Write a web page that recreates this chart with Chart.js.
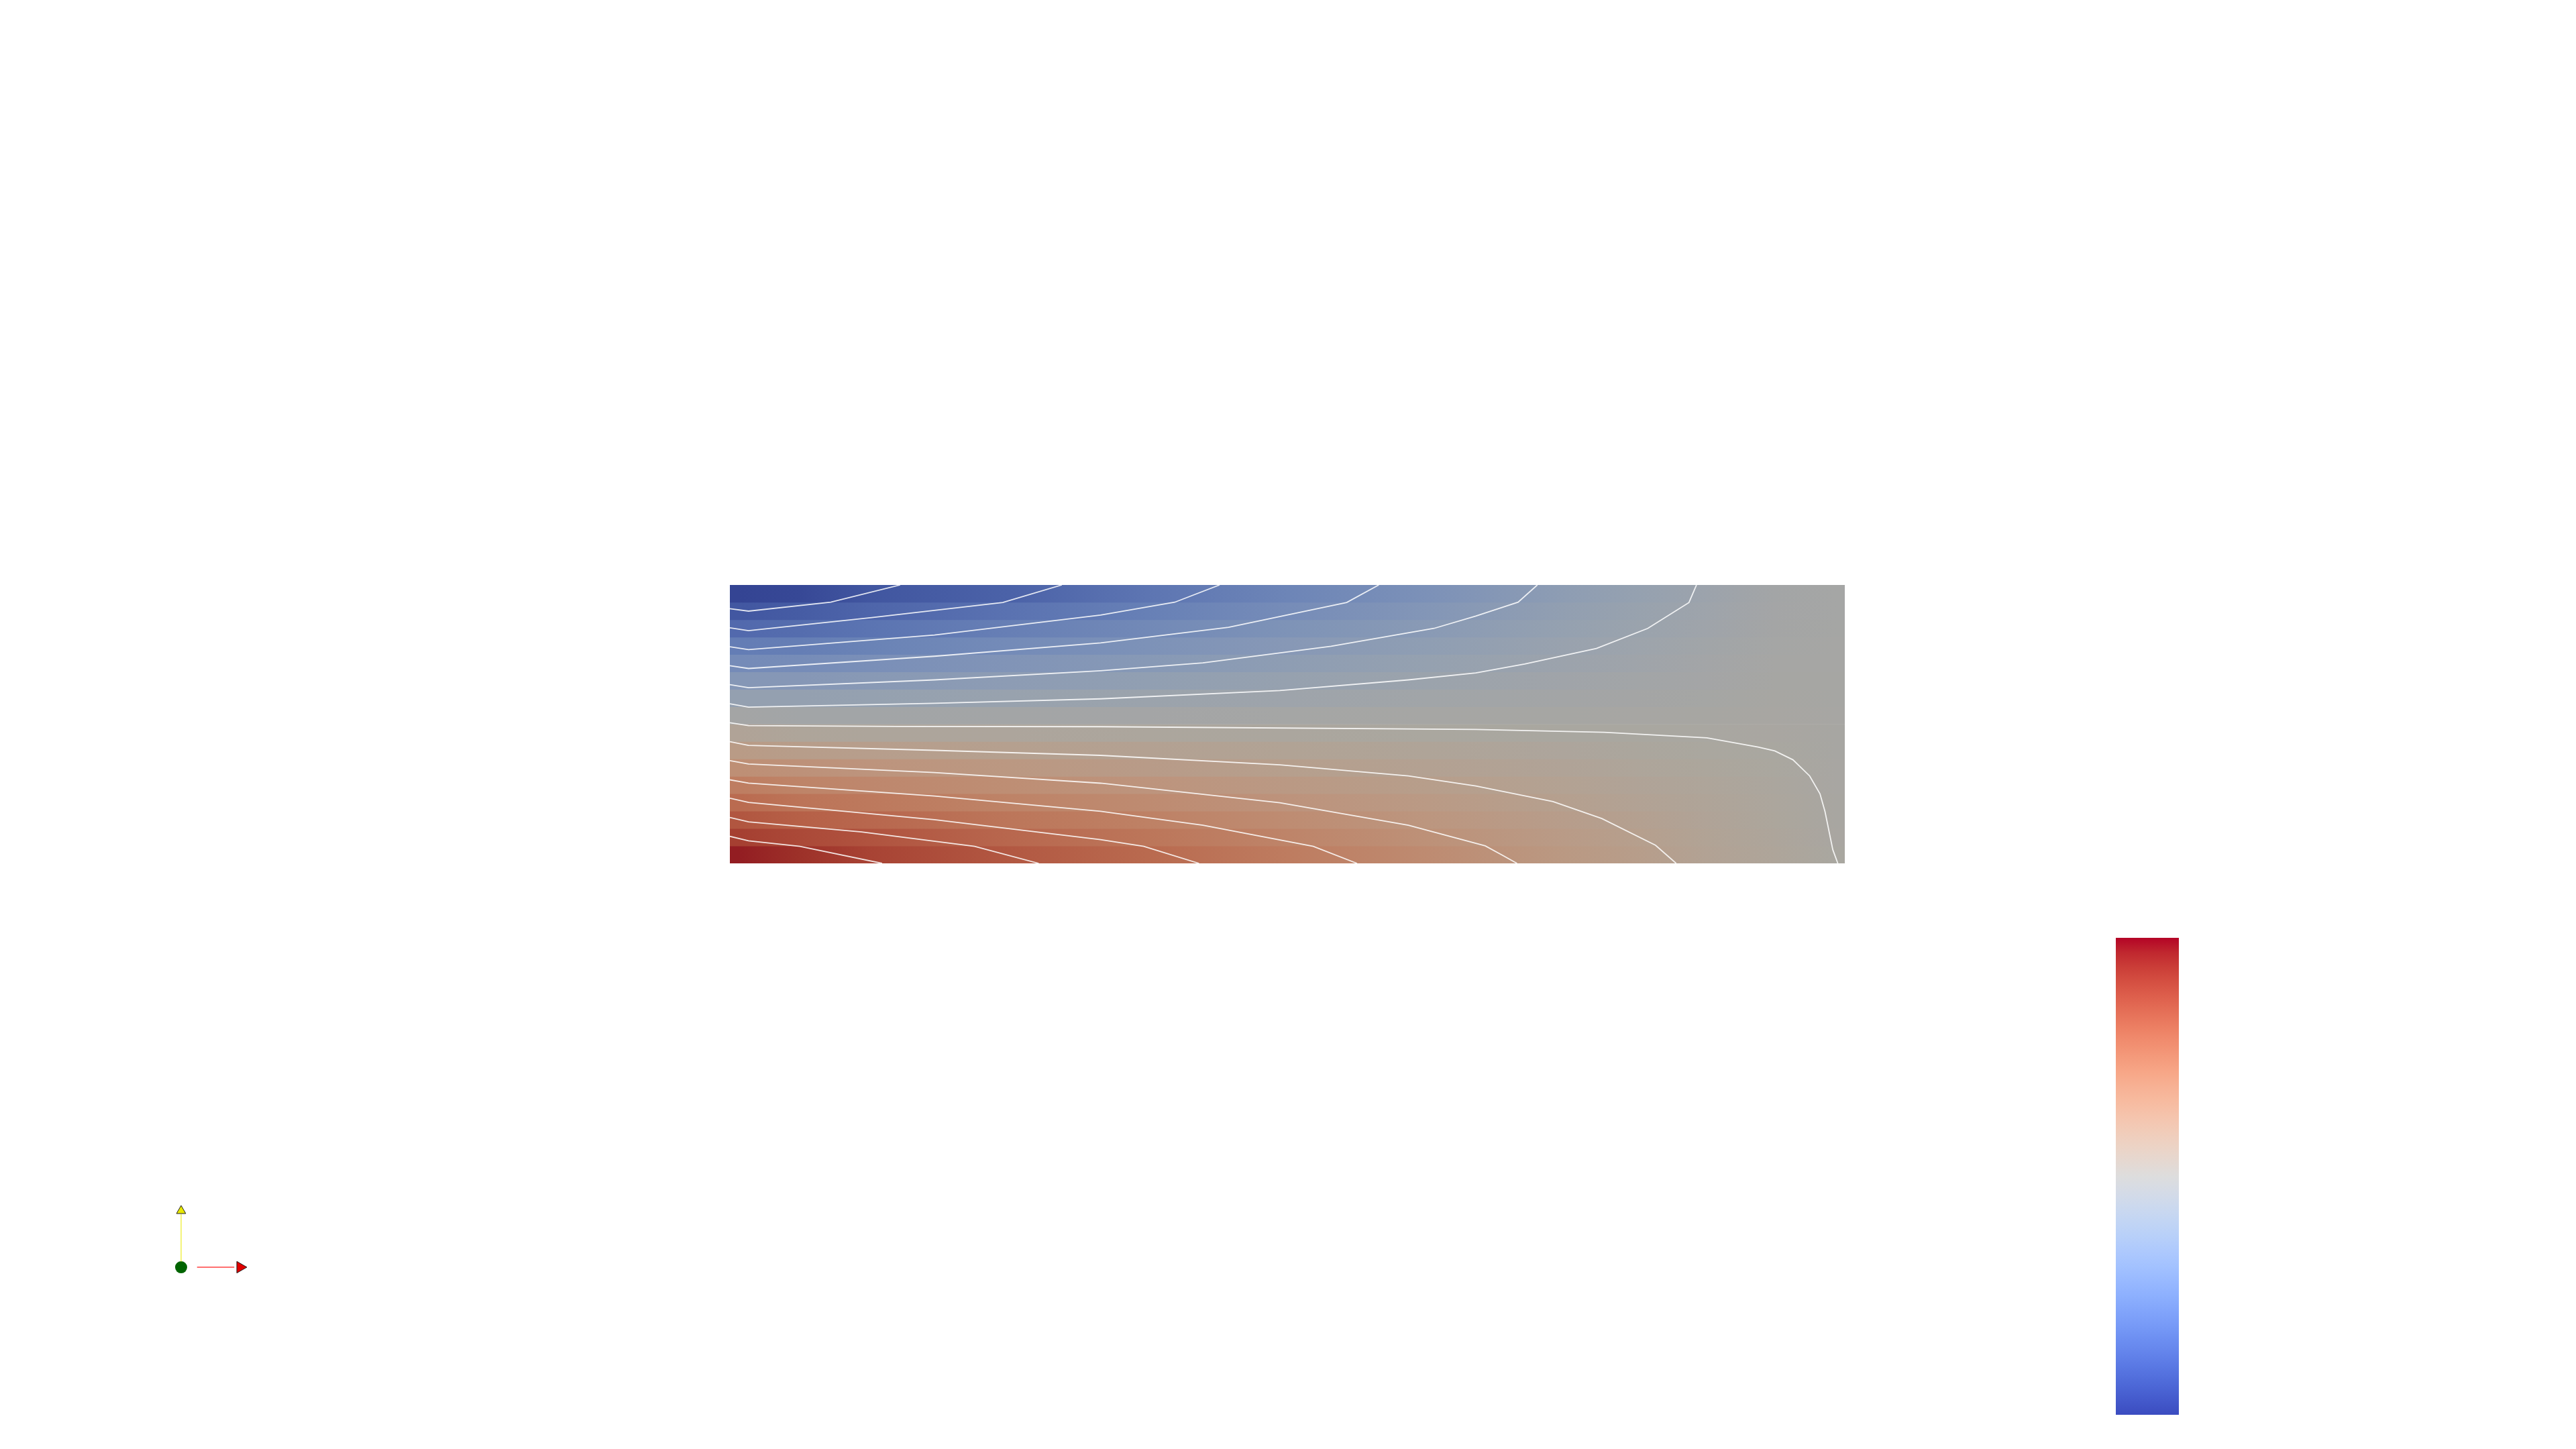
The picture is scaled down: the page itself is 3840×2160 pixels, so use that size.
<!DOCTYPE html>
<html><head><meta charset="utf-8">
<script src="https://cdn.jsdelivr.net/npm/chart.js@4.4.1/dist/chart.umd.min.js"></script>
<style>
html,body{margin:0;padding:0;background:#ffffff;width:3840px;height:2160px;overflow:hidden}
canvas{position:absolute}
</style></head><body>
<canvas id="main" width="3840" height="2160" style="left:0;top:0"></canvas>
<canvas id="cbar" width="94" height="711" style="left:3154px;top:1398px"></canvas>
<canvas id="axes" width="200" height="160" style="left:200px;top:1770px"></canvas>
<script>
// ---------- DATA ----------
// domain of the plotted field (x: 0..4, y: 0..1), 16 mesh rows
const domainX = [0, 4];
const domainY = [0, 1];
const meshRows = 16;
// x positions where the field value was read for each mesh row
const sampleX = [0.03, 0.25, 0.5, 1.0, 1.5, 2.0, 2.5, 3.0, 3.25, 3.5, 3.75, 3.97];
// normalised field value (0 = min / blue, 1 = max / red), rows from top to bottom
const row01 = [.03, .044, .087, .125, .192, .250, .306, .377, .405, .432, .465, .472];
const row02 = [.09, .104, .135, .181, .231, .283, .331, .391, .415, .440, .468, .474];
const row03 = [.15, .163, .186, .228, .270, .315, .356, .405, .424, .447, .471, .475];
const row04 = [.22, .223, .242, .278, .310, .347, .381, .420, .436, .455, .474, .477];
const row05 = [.28, .283, .298, .324, .349, .378, .405, .434, .447, .462, .477, .478];
const row06 = [.34, .342, .352, .371, .390, .410, .431, .450, .459, .469, .481, .480];
const row07 = [.40, .400, .406, .418, .430, .442, .454, .465, .471, .476, .484, .481];
const row08 = [.47, .460, .461, .466, .469, .473, .477, .481, .483, .484, .488, .482];
const row09 = [.53, .518, .515, .512, .508, .504, .501, .496, .494, .493, .492, .484];
const row10 = [.59, .576, .569, .557, .546, .536, .524, .512, .506, .500, .495, .485];
const row11 = [.65, .637, .625, .605, .585, .567, .548, .528, .518, .510, .499, .487];
const row12 = [.72, .695, .680, .653, .625, .598, .572, .544, .529, .517, .503, .488];
const row13 = [.78, .752, .734, .699, .665, .628, .594, .560, .541, .524, .507, .489];
const row14 = [.84, .813, .790, .745, .705, .661, .617, .574, .553, .530, .511, .491];
const row15 = [.90, .874, .847, .790, .744, .692, .641, .587, .565, .536, .515, .492];
const row16 = [.97, .933, .890, .835, .784, .724, .664, .601, .575, .542, .519, .494];
const fieldRows = [row01,row02,row03,row04,row05,row06,row07,row08,row09,row10,row11,row12,row13,row14,row15,row16];

// contour lines (iso-lines), points as [x, y] in domain units
const contour01 = [[0,.915],[.067,.906],[.362,.938],[.611,1.0]];
const contour02 = [[0,.846],[.067,.836],[.509,.883],[.979,.937],[1.191,1.0]];
const contour03 = [[0,.778],[.067,.768],[.734,.820],[1.33,.892],[1.596,.938],[1.757,1.0]];
const contour04 = [[0,.710],[.067,.700],[.734,.744],[1.33,.792],[1.789,.848],[2.213,.937],[2.328,1.0]];
const contour05 = [[0,.642],[.067,.631],[.734,.659],[1.33,.692],[1.697,.720],[2.157,.780],[2.526,.844],[2.676,.888],[2.828,.938],[2.897,1.0]];
const contour06 = [[0,.573],[.067,.561],[.734,.575],[1.33,.591],[1.973,.621],[2.434,.659],[2.676,.684],[2.851,.716],[3.109,.772],[3.293,.844],[3.441,.937],[3.468,1.0]];
const contour07 = [[0,.505],[.067,.495],[.601,.492],[1.33,.491],[2.676,.481],[3.137,.471],[3.505,.451],[3.689,.418],[3.749,.404],[3.814,.372],[3.874,.314],[3.911,.250],[3.929,.186],[3.957,.049],[3.975,0]];
const contour08 = [[0,.437],[.067,.424],[.734,.406],[1.33,.388],[1.973,.354],[2.434,.314],[2.676,.278],[2.953,.222],[3.128,.161],[3.321,.065],[3.395,0]];
const contour09 = [[0,.369],[.067,.357],[.734,.326],[1.33,.288],[1.973,.218],[2.434,.137],[2.71,.063],[2.77,.03],[2.824,0]];
const contour10 = [[0,.300],[.067,.288],[.734,.242],[1.33,.187],[1.697,.137],[2.093,.061],[2.25,0]];
const contour11 = [[0,.234],[.067,.219],[.734,.157],[1.33,.085],[1.485,.061],[1.683,0]];
const contour12 = [[0,.165],[.067,.149],[.472,.113],[.878,.061],[1.108,0]];
const contour13 = [[0,.097],[.067,.081],[.251,.061],[.546,0]];
const contours = [contour01,contour02,contour03,contour04,contour05,contour06,contour07,contour08,contour09,contour10,contour11,contour12,contour13];

// colour bar range
const colorbarRange = [0, 1];

// orientation glyph (unit axes)
const glyphOrigin = [[0, 0]];
const glyphYShaft = [[0, 0.1], [0, 0.94]];
const glyphYTip = [[0, 1.0]];
const glyphXShaft = [[0.27, 0], [0.9, 0]];
const glyphXTip = [[1.0, 0]];

// ---------- COLOUR MAP (Cool to Warm) ----------
const coolWarm = [
 [59,76,192],[68,90,204],[77,104,215],[87,117,225],[98,130,234],[108,142,241],[119,154,247],[130,165,251],
 [141,176,254],[152,185,255],[163,194,255],[174,201,253],[184,208,249],[194,213,244],[204,217,238],[213,219,230],
 [221,221,221],[229,216,209],[236,211,197],[241,204,185],[245,196,173],[247,187,160],[247,177,148],[247,166,135],
 [244,154,123],[241,141,111],[236,127,99],[229,112,88],[222,96,77],[213,80,66],[203,62,56],[192,40,47],[180,4,38]];
const lightTint = [0.77, 0.755, 0.72];

function cmap(v) {
  v = Math.max(0, Math.min(1, v));
  const f = v * (coolWarm.length - 1);
  const i = Math.min(coolWarm.length - 2, Math.floor(f));
  const t = f - i;
  return [0,1,2].map(k => coolWarm[i][k] + (coolWarm[i+1][k] - coolWarm[i][k]) * t);
}
function rgb(c, tint) {
  return 'rgb(' + c.map((x, k) => Math.round(x * (tint ? tint[k] : 1))).join(',') + ')';
}

Chart.defaults.animation = false;
Chart.defaults.plugins.legend.display = false;
Chart.defaults.plugins.tooltip.enabled = false;

// ---------- MAIN FIELD CHART ----------
function rowGradient(ctx) {
  const chart = ctx.chart;
  if (!chart.chartArea) return 'rgba(0,0,0,0)';
  const xs = chart.scales.xl;
  const x0 = xs.getPixelForValue(domainX[0]);
  const x1 = xs.getPixelForValue(domainX[1]);
  const g = chart.ctx.createLinearGradient(x0, 0, x1, 0);
  const vals = fieldRows[ctx.datasetIndex];
  sampleX.forEach((sx, i) => {
    g.addColorStop((sx - domainX[0]) / (domainX[1] - domainX[0]), rgb(cmap(vals[i]), lightTint));
  });
  return g;
}

const datasets = [];
fieldRows.forEach((vals, r) => {
  const h = (domainY[1] - domainY[0]) / meshRows;
  datasets.push({
    type: 'bar', xAxisID: 'xc', yAxisID: 'y',
    data: [[domainY[1] - (r + 1) * h, domainY[1] - r * h]],
    backgroundColor: rowGradient, borderWidth: 0,
    barPercentage: 1, categoryPercentage: 1, grouped: false, order: 2
  });
});
contours.forEach(c => {
  datasets.push({
    type: 'line', xAxisID: 'xl', yAxisID: 'y',
    data: c.map(p => ({x: p[0], y: p[1]})),
    borderColor: 'rgba(255,255,255,0.85)', borderWidth: 1.8,
    pointRadius: 0, tension: 0, fill: false, order: 1
  });
});

new Chart(document.getElementById('main'), {
  type: 'bar',
  data: { labels: ['field'], datasets },
  options: {
    responsive: false, devicePixelRatio: 1,
    layout: { autoPadding: false, padding: { left: 1088, top: 872, right: 1090, bottom: 873 } },
    scales: {
      xc: { type: 'category', offset: true, display: false },
      xl: { type: 'linear', min: domainX[0], max: domainX[1], offset: false, display: false },
      y: { type: 'linear', min: domainY[0], max: domainY[1], offset: false, display: false }
    }
  }
});

// ---------- COLOUR BAR ----------
new Chart(document.getElementById('cbar'), {
  type: 'bar',
  data: { labels: [''], datasets: [{
    data: [colorbarRange],
    backgroundColor: (ctx) => {
      const chart = ctx.chart;
      if (!chart.chartArea) return 'rgba(0,0,0,0)';
      const ys = chart.scales.y;
      const g = chart.ctx.createLinearGradient(0, ys.getPixelForValue(colorbarRange[0]), 0, ys.getPixelForValue(colorbarRange[1]));
      coolWarm.forEach((c, i) => g.addColorStop(i / (coolWarm.length - 1), rgb(c)));
      return g;
    },
    borderWidth: 0, barPercentage: 1, categoryPercentage: 1
  }]},
  options: {
    responsive: false, devicePixelRatio: 1,
    layout: { autoPadding: false, padding: 0 },
    scales: {
      x: { type: 'category', offset: true, display: false },
      y: { type: 'linear', min: colorbarRange[0], max: colorbarRange[1], display: false }
    }
  }
});

// ---------- ORIENTATION GLYPH ----------
const pts = a => a.map(p => ({x: p[0], y: p[1]}));
new Chart(document.getElementById('axes'), {
  type: 'scatter',
  data: { datasets: [
    { data: pts(glyphYShaft), showLine: true, borderColor: '#eeee30', borderWidth: 1.3, pointRadius: 0 },
    { data: pts(glyphXShaft), showLine: true, borderColor: '#ff4040', borderWidth: 1.3, pointRadius: 0 },
    { data: pts(glyphYTip), pointStyle: 'triangle', pointRadius: 8, backgroundColor: '#e8e800', borderColor: '#222', borderWidth: 1 },
    { data: pts(glyphXTip), pointStyle: 'triangle', rotation: 90, pointRadius: 10, backgroundColor: '#e00000', borderColor: '#222', borderWidth: 1 },
    { data: pts(glyphOrigin), pointStyle: 'circle', pointRadius: 9, backgroundColor: '#006400', borderWidth: 0 }
  ]},
  options: {
    responsive: false, devicePixelRatio: 1,
    layout: { autoPadding: false, padding: 0 },
    scales: {
      x: { type: 'linear', min: -0.795, max: 1.477, display: false },
      y: { type: 'linear', min: -0.488, max: 1.417, display: false }
    }
  }
});
</script>
</body></html>
